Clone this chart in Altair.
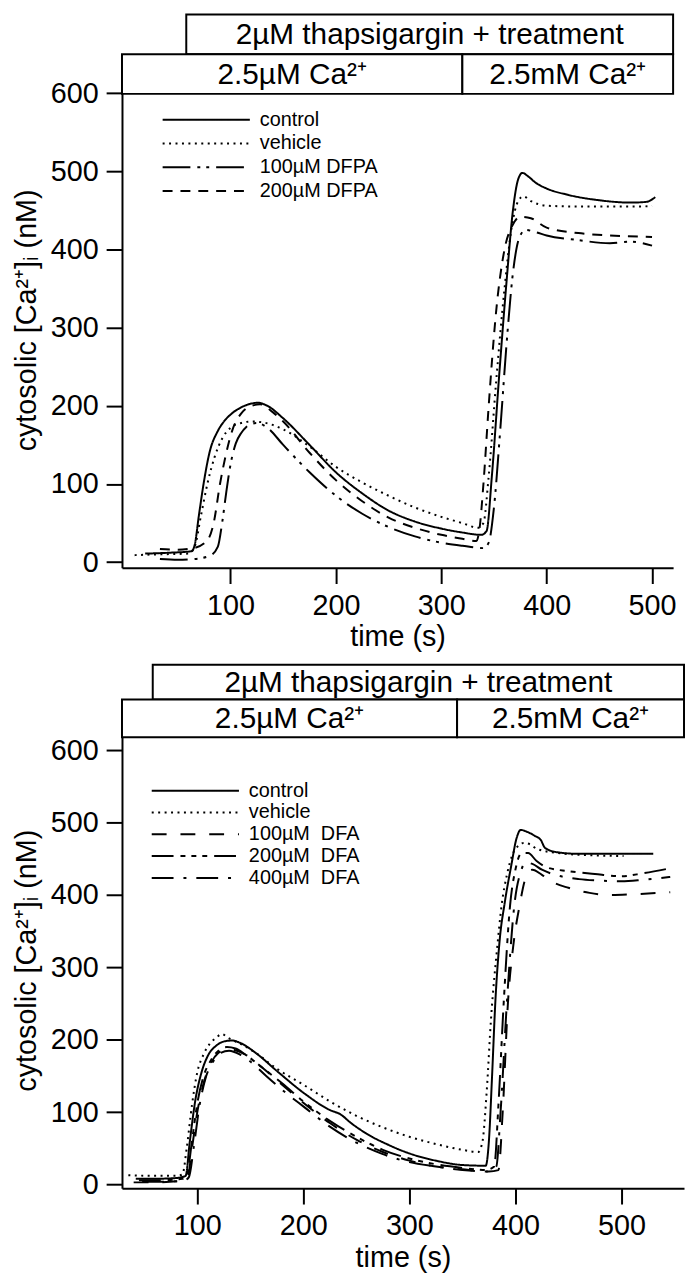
import altair as alt
import pandas as pd

# ---------------- top panel (DFPA) ----------------
top_series = ["control", "vehicle", "100µM DFPA", "200µM DFPA"]
top_dashes = [[1, 0], [2, 4.5], [28, 7, 3, 6, 3, 7], [10, 8]]

top_control_t = [19, 40, 63, 66, 70, 75, 80, 88, 95, 101, 110, 120, 126, 135, 150, 175, 200, 225, 250, 275, 300, 320, 338, 343, 348, 355, 362, 368, 373, 377, 382, 390, 400, 420, 450, 480, 495, 503]
top_control_v = [11, 12, 14, 22, 60, 105, 140, 168, 182, 190, 198, 203, 204, 200, 184, 150, 115, 88, 66, 52, 43, 38, 35, 40, 110, 240, 360, 450, 490, 498, 494, 485, 478, 470, 463, 460, 461, 467]

top_vehicle_t = [9, 30, 60, 66, 72, 78, 85, 92, 100, 110, 120, 130, 150, 175, 200, 225, 250, 275, 300, 320, 335, 340, 345, 352, 360, 367, 373, 378, 385, 392, 400, 430, 460, 490, 500]
top_vehicle_v = [9, 10, 11, 20, 60, 100, 135, 158, 172, 178, 180, 179, 170, 148, 122, 102, 85, 70, 58, 50, 44, 50, 110, 230, 350, 430, 462, 468, 462, 458, 456, 455, 455, 455, 456]

top_dfpa100_t = [33, 50, 65, 80, 88, 92, 96, 100, 105, 110, 115, 120, 125, 135, 150, 175, 200, 225, 250, 275, 300, 320, 340, 345, 350, 356, 362, 368, 374, 380, 390, 400, 430, 460, 480, 500]
top_dfpa100_v = [4, 3, 4, 8, 20, 50, 90, 125, 152, 165, 173, 177, 178, 172, 150, 115, 85, 62, 45, 33, 25, 21, 18, 25, 70, 170, 280, 370, 415, 425, 422, 418, 412, 408, 410, 405]

top_dfpa200_t = [33, 50, 65, 78, 84, 90, 96, 102, 110, 120, 128, 140, 150, 175, 200, 225, 250, 275, 300, 320, 333, 336, 340, 345, 352, 360, 368, 375, 385, 400, 430, 460, 500]
top_dfpa200_v = [17, 16, 18, 28, 50, 100, 140, 170, 190, 200, 202, 192, 180, 140, 105, 78, 57, 44, 35, 30, 27, 40, 100, 200, 320, 400, 432, 442, 440, 428, 421, 418, 416]

top_x_domain = [-3, 520]
top_y_domain = [-7, 627]
top_box_row1 = [58, 520]
top_box_row2 = [-3, 320, 520]

# ---------------- bottom panel (DFA) ----------------
bot_series = ["control", "vehicle", "100µM\u00a0 DFA", "200µM\u00a0 DFA", "400µM\u00a0 DFA"]
bot_dashes = [[1, 0], [2, 4.5], [15, 14], [22, 7, 5, 6, 5, 6, 5, 7], [22, 10, 3, 10]]

bot_control_t = [42, 60, 80, 89, 93, 98, 104, 110, 118, 126, 133, 140, 155, 175, 200, 225, 235, 245, 260, 280, 300, 325, 350, 372, 375, 378, 381, 385, 390, 396, 401, 405, 410, 418, 424, 428, 440, 460, 480, 500, 530]
bot_control_v = [8, 8, 9, 12, 60, 115, 155, 178, 192, 198, 199, 196, 182, 157, 127, 103, 97, 85, 70, 55, 43, 33, 27, 26, 60, 150, 250, 335, 390, 440, 478, 490, 488, 482, 476, 465, 459, 457, 457, 457, 457]

bot_vehicle_t = [35, 60, 80, 86, 90, 95, 100, 106, 112, 118, 123, 130, 140, 155, 175, 200, 225, 250, 275, 300, 325, 350, 365, 369, 373, 377, 383, 387, 392, 397, 402, 408, 414, 420, 440, 470, 502]
bot_vehicle_v = [13, 12, 12, 14, 50, 110, 155, 180, 195, 203, 208, 202, 195, 182, 160, 138, 115, 95, 79, 66, 56, 48, 45, 60, 130, 229, 330, 386, 428, 455, 467, 472, 470, 464, 458, 455, 454]

bot_dfa100_t = [40, 60, 85, 91, 95, 100, 106, 112, 120, 128, 135, 145, 160, 180, 200, 225, 250, 275, 300, 325, 350, 375, 384, 388, 393, 398, 404, 410, 416, 425, 435, 450, 470, 490, 510, 546]
bot_dfa100_v = [3, 3, 5, 10, 50, 100, 140, 165, 182, 187, 186, 180, 163, 138, 113, 85, 62, 45, 33, 25, 21, 18, 20, 100, 252, 330, 386, 425, 435, 428, 418, 410, 403, 400, 401, 404]

bot_dfa200_t = [45, 65, 86, 90, 95, 100, 106, 113, 120, 128, 136, 145, 160, 180, 200, 225, 250, 275, 300, 325, 350, 372, 380, 384, 389, 395, 400, 406, 412, 420, 430, 450, 475, 500, 520, 546]
bot_dfa200_v = [6, 6, 8, 12, 60, 112, 150, 172, 185, 190, 188, 180, 163, 140, 115, 88, 66, 48, 36, 28, 23, 20, 25, 110, 252, 386, 435, 458, 458, 447, 438, 433, 429, 426, 430, 437]

bot_dfa400_t = [48, 70, 88, 92, 97, 102, 108, 115, 122, 130, 140, 150, 165, 185, 200, 225, 250, 275, 300, 325, 350, 374, 382, 386, 392, 399, 405, 410, 416, 425, 440, 460, 480, 500, 520, 546]
bot_dfa400_v = [4, 4, 6, 10, 55, 108, 148, 170, 182, 185, 180, 170, 150, 125, 108, 80, 58, 42, 31, 25, 20, 18, 25, 100, 252, 386, 432, 445, 443, 435, 427, 422, 420, 419, 421, 425]

bot_x_domain = [29, 559]
bot_y_domain = [-5, 625]
bot_box_row1 = [58, 559]
bot_box_row2 = [29, 345, 559]

y_ticks = [0, 100, 200, 300, 400, 500, 600]
x_ticks = [100, 200, 300, 400, 500]

header_top = "2µM thapsigargin + treatment"
header_left = "2.5µM Ca²⁺"
header_right = "2.5mM Ca²⁺"

FONT = "Liberation Sans"


def series_frame(names, ts, vs):
    rows = []
    for name, t, v in zip(names, ts, vs):
        for a, b in zip(t, v):
            rows.append({"series": name, "t": a, "v": b})
    return pd.DataFrame(rows)


def panel(df, names, dashes, x_domain, y_domain, row1, row2, width, height, hdr, legend_x, legend_y, row_pad):
    xs = alt.Scale(domain=x_domain, nice=False, zero=False)
    lines = alt.Chart(df).mark_line(color="black", strokeWidth=2, interpolate="monotone").encode(
        x=alt.X("t:Q", scale=xs,
                axis=alt.Axis(values=x_ticks, title="time (s)", titlePadding=3)),
        y=alt.Y("v:Q", scale=alt.Scale(domain=y_domain, nice=False),
                axis=alt.Axis(values=y_ticks, title="cytosolic [Ca²⁺]ᵢ (nM)", titlePadding=9)),
        strokeDash=alt.StrokeDash(
            "series:N",
            scale=alt.Scale(domain=names, range=dashes),
            legend=alt.Legend(orient="none", legendX=legend_x, legendY=legend_y, title=None,
                              symbolType="M-4,0H4", symbolSize=484, symbolStrokeWidth=2,
                              symbolStrokeColor="black", symbolFillColor="transparent",
                              labelFontSize=20, labelFont=FONT,
                              labelOffset=42, rowPadding=row_pad, labelColor="black"),
        ),
        detail="series:N",
    )

    b1 = pd.DataFrame({"start": [row1[0]], "end": [row1[1]], "label": [header_top]})
    b2 = pd.DataFrame({"start": row2[:-1], "end": row2[1:], "label": [header_left, header_right]})

    def boxes(d, y0, y1):
        rect = alt.Chart(d).mark_rect(fill="white", stroke="black", strokeWidth=2).encode(
            x=alt.X("start:Q", scale=xs), x2="end:Q", y=alt.value(y0), y2=alt.value(y1))
        txt = alt.Chart(d).transform_calculate(mid="(datum.start + datum.end) / 2").mark_text(
            font=FONT, fontSize=30, color="black", baseline="middle").encode(
            x=alt.X("mid:Q", scale=xs), y=alt.value((y0 + y1) / 2 + 1), text="label:N")
        return rect + txt

    return alt.layer(lines, boxes(b1, hdr[0], hdr[1]), boxes(b2, hdr[1], hdr[2])).properties(
        width=width, height=height)


top_df = series_frame(top_series,
                      [top_control_t, top_vehicle_t, top_dfpa100_t, top_dfpa200_t],
                      [top_control_v, top_vehicle_v, top_dfpa100_v, top_dfpa200_v])
bot_df = series_frame(bot_series,
                      [bot_control_t, bot_vehicle_t, bot_dfa100_t, bot_dfa200_t, bot_dfa400_t],
                      [bot_control_v, bot_vehicle_v, bot_dfa100_v, bot_dfa200_v, bot_dfa400_v])

top = panel(top_df, top_series, top_dashes, top_x_domain, top_y_domain, top_box_row1, top_box_row2,
            556, 500, [-58, -18, 22], 73, 36, 2)
bot = panel(bot_df, bot_series, bot_dashes, bot_x_domain, bot_y_domain, bot_box_row1, bot_box_row2,
            567, 460, [-68, -33, 5], 62, 47, 0)

chart = alt.vconcat(top, bot, spacing=12).resolve_scale(strokeDash="independent", x="independent").configure(
    padding={"left": 4, "top": 0, "right": 0, "bottom": 0}, font=FONT
).configure_view(stroke=None).configure_axis(
    grid=False, domainColor="black", domainWidth=2, tickColor="black", tickWidth=2, tickSize=16,
    labelFont=FONT, labelFontSize=29, labelColor="black", titleFont=FONT, titleFontSize=29,
    titleFontWeight="normal", titleColor="black", labelPadding=8
)

chart.save("out.html", embed_options={"renderer": "svg", "actions": False})
